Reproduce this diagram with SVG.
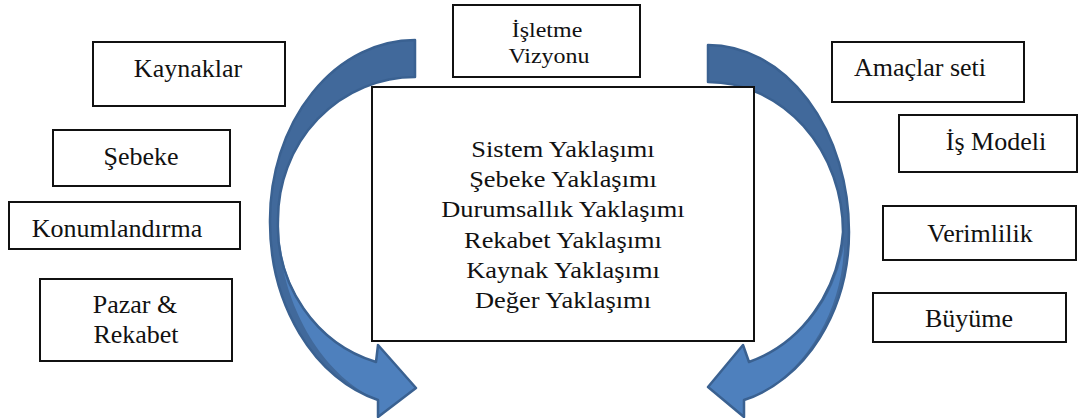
<svg xmlns="http://www.w3.org/2000/svg" width="1081" height="418" viewBox="0 0 1081 418">
<style>
.box{fill:#fff;stroke:#111;stroke-width:2}
.t{font-family:"Liberation Serif","Times New Roman",serif;fill:#111;text-anchor:middle}
.s{font-size:26px}
.c{font-size:24px}
.v{font-size:22px}
.back{fill:#41699b;stroke:none}
.front{fill:#4e80bd;stroke:none}
.edge{fill:none;stroke:#3a6191;stroke-width:2.5;stroke-linejoin:round}
</style>
<rect width="1081" height="418" fill="#fff"/>
<g id="connectors">
  <g id="arrow-left">
    <path class="back" d="M 415 40 A 145 180 0 0 0 270 220 A 145 184 0 0 0 378 400 L 378 417 L 416 388 L 378 345 L 376 362 A 137 142 0 0 1 278 220 A 137 142 0 0 1 415 77 Z"/>
    <path class="front" d="M 279 232 C 280 300 320 375 378 400 L 378 417 L 416 388 L 378 345 L 376 362 A 137 142 0 0 1 279 232 Z"/>
    <path class="edge" d="M 415 40 A 145 180 0 0 0 270 220 A 145 184 0 0 0 378 400 L 378 417 L 416 388 L 378 345 L 376 362 A 137 142 0 0 1 278 220 A 137 142 0 0 1 415 77 Z"/>
  </g>
  <g id="arrow-right">
    <path class="back" d="M 708 45 A 141 187 0 0 1 849 232 A 141 174 0 0 1 744 400 L 744 417 L 708 387 L 743 345 L 749 362 A 135 150 0 0 0 843 232 A 135 150 0 0 0 708 82 Z"/>
    <path class="front" d="M 844 245 C 843 310 805 378 744 400 L 744 417 L 708 387 L 743 345 L 749 362 A 135 150 0 0 0 844 245 Z"/>
    <path class="edge" d="M 708 45 A 141 187 0 0 1 849 232 A 141 174 0 0 1 744 400 L 744 417 L 708 387 L 743 345 L 749 362 A 135 150 0 0 0 843 232 A 135 150 0 0 0 708 82 Z"/>
  </g>
</g>
<g id="vizyon">
  <rect class="box" x="453" y="5" width="187" height="72"/>
  <text class="t v" transform="translate(547,0) scale(1.09,1)" x="0" y="37">İşletme</text>
  <text class="t v" transform="translate(549,0) scale(1.09,1)" x="0" y="63">Vizyonu</text>
</g>
<g id="center">
  <rect class="box" x="372" y="87" width="382" height="254"/>
  <g transform="translate(563,0) scale(1.1,1)">
    <text class="t c" x="0" y="157">Sistem Yaklaşımı</text>
    <text class="t c" x="0" y="187">Şebeke Yaklaşımı</text>
    <text class="t c" x="0" y="217">Durumsallık Yaklaşımı</text>
    <text class="t c" x="0" y="248">Rekabet Yaklaşımı</text>
    <text class="t c" x="0" y="278">Kaynak Yaklaşımı</text>
    <text class="t c" x="0" y="308">Değer Yaklaşımı</text>
  </g>
</g>
<g id="kaynaklar">
  <rect class="box" x="93" y="42" width="192" height="64"/>
  <text class="t s" x="188" y="77">Kaynaklar</text>
</g>
<g id="sebeke">
  <rect class="box" x="53" y="130" width="177" height="56"/>
  <text class="t s" x="141" y="165">Şebeke</text>
</g>
<g id="konumlandirma">
  <rect class="box" x="9" y="202" width="231" height="47"/>
  <text class="t s" x="117" y="237">Konumlandırma</text>
</g>
<g id="pazar">
  <rect class="box" x="40" y="279" width="192" height="82"/>
  <text class="t s" x="135" y="313">Pazar &amp;</text>
  <text class="t s" x="136" y="343">Rekabet</text>
</g>
<g id="amaclar">
  <rect class="box" x="832" y="42" width="192" height="60"/>
  <text class="t s" x="920" y="76">Amaçlar seti</text>
</g>
<g id="ismodeli">
  <rect class="box" x="899" y="115" width="178" height="57"/>
  <text class="t s" x="996" y="150">İş Modeli</text>
</g>
<g id="verimlilik">
  <rect class="box" x="883" y="206" width="193" height="54"/>
  <text class="t s" x="980" y="242">Verimlilik</text>
</g>
<g id="buyume">
  <rect class="box" x="873" y="293" width="193" height="49"/>
  <text class="t s" x="969" y="327">Büyüme</text>
</g>
</svg>
